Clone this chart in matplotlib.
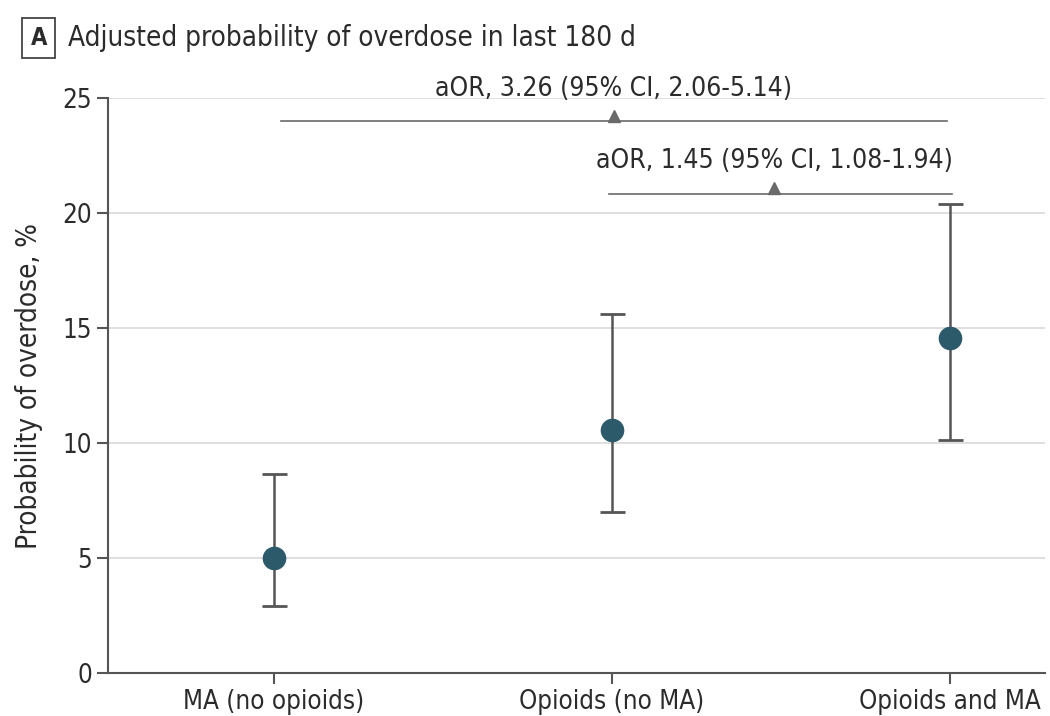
import numpy as np
import matplotlib
matplotlib.use('Agg')
from matplotlib import pyplot as plt

categories = ['MA (no opioids)', 'Opioids (no MA)', 'Opioids and MA']
prob = [5.0, 10.55, 14.55]
ciLow = [2.9, 7.0, 10.15]
ciHigh = [8.65, 15.6, 20.4]
yticks = [0, 5, 10, 15, 20, 25]

# comparison brackets: (start, end, y, label)
brackets = [
    (0.02, 1.99, 24.0, 'aOR, 3.26 (95% CI, 2.06-5.14)'),
    (0.99, 2.005, 20.85, 'aOR, 1.45 (95% CI, 1.08-1.94)'),
]
arrowX = [1.005, 1.48]

plt.rcParams['font.family'] = ['DejaVu Sans']
plt.rcParams['font.stretch'] = 'condensed'
textColor = '#2b2b2b'
axisColor = '#555555'

fig = plt.figure(figsize=(10.5, 7.16), dpi=100)
ax = fig.add_axes([0.103, 0.06, 0.892, 0.803])

x = np.arange(len(categories))
yerr = [np.array(prob) - np.array(ciLow), np.array(ciHigh) - np.array(prob)]
ax.errorbar(x, prob, yerr=yerr, fmt='none', ecolor='#555555', elinewidth=1.8,
            capsize=9, capthick=2.0, zorder=3)
ax.plot(x, prob, 'o', color='#2d5a6b', markersize=16, zorder=4)

for (x0, x1, yb, label), xa in zip(brackets, arrowX):
    ax.plot([x0, x1], [yb, yb], color='#6a6a6a', lw=1.2, zorder=3, clip_on=False)
    ax.plot([xa], [yb + 0.22], marker='^', color='#6a6a6a', markersize=8, zorder=3, clip_on=False)
    ax.text(xa, yb + 0.85, label, ha='center', va='bottom', fontsize=19,
            color=textColor, clip_on=False)

ax.set_xlim(-0.49, 2.28)
ax.set_ylim(0, 25)
ax.set_yticks(yticks)
ax.set_xticks(x)
ax.set_xticklabels(categories)
ax.yaxis.grid(True, color='#dcdcdc', lw=1.3)
ax.set_axisbelow(True)

for s in ['top', 'right']:
    ax.spines[s].set_visible(False)
for s in ['left', 'bottom']:
    ax.spines[s].set_color(axisColor)
    ax.spines[s].set_linewidth(1.5)
ax.tick_params(axis='both', colors=axisColor, width=1.5, length=8, labelsize=18.6,
               labelcolor=textColor)
ax.set_ylabel('Probability of overdose, %', fontsize=20, color=textColor, labelpad=14)

fig.text(0.037, 0.947, 'A', fontsize=17, fontweight='bold', color=textColor,
         ha='center', va='center',
         bbox=dict(boxstyle='square,pad=0.35', fc='white', ec='#444444', lw=1.3))
fig.text(0.065, 0.947, 'Adjusted probability of overdose in last 180 d', fontsize=20,
         color=textColor, ha='left', va='center')

fig.savefig('out.png', dpi=100)
